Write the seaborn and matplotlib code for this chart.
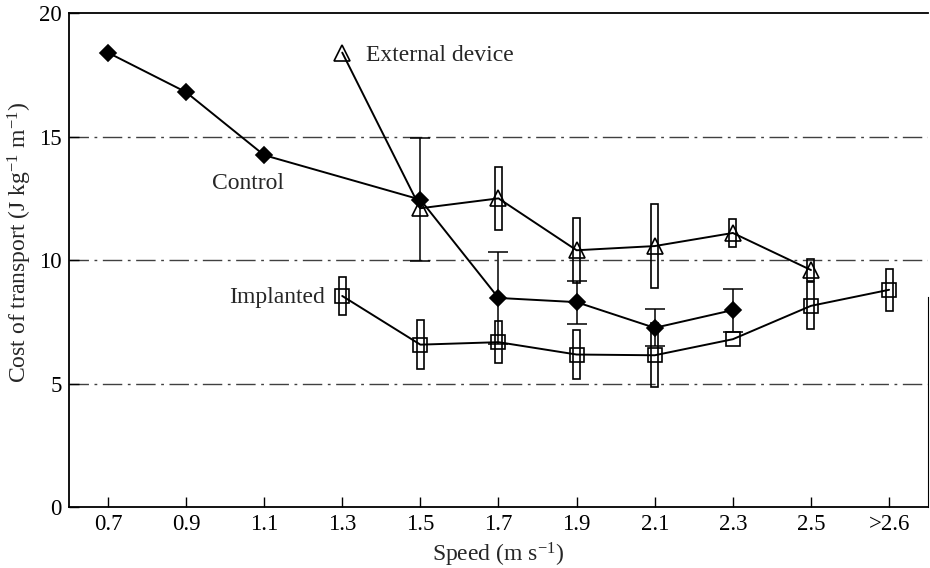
import numpy as np
import pandas as pd
import seaborn as sns
import matplotlib.pyplot as plt

# speed classes (m/s)
speeds = ['0.7', '0.9', '1.1', '1.3', '1.5', '1.7', '1.9', '2.1', '2.3', '2.5', '>2.6']

# cost of transport, J kg-1 m-1 (nan = no data)
control_mean = [18.4, 16.8, 14.25, np.nan, 12.45, 8.47, 8.3, 7.26, 7.98, np.nan, np.nan]
control_err = [np.nan, np.nan, np.nan, np.nan, 2.5, 1.87, 0.87, 0.75, 0.87, np.nan, np.nan]

external_mean = [np.nan, np.nan, np.nan, 18.4, 12.1, 12.5, 10.4, 10.57, 11.1, 9.6, np.nan]
external_err = [np.nan, np.nan, np.nan, np.nan, np.nan, 1.28, 1.32, 1.7, 0.55, 0.45, np.nan]

implanted_mean = [np.nan, np.nan, np.nan, 8.55, 6.58, 6.68, 6.18, 6.15, 6.8, 8.15, 8.8]
implanted_err = [np.nan, np.nan, np.nan, 0.77, 1.0, 0.85, 1.0, 1.3, np.nan, 0.95, 0.84]

sns.set_style('white')
plt.rcParams['font.family'] = ['Liberation Serif', 'DejaVu Serif']
plt.rcParams['mathtext.fontset'] = 'custom'
plt.rcParams['mathtext.rm'] = 'Liberation Serif'
plt.rcParams['mathtext.it'] = 'Liberation Serif:italic'

pos = np.arange(len(speeds))
df = pd.DataFrame({'pos': pos,
                   'control': control_mean, 'control_err': control_err,
                   'external': external_mean, 'external_err': external_err,
                   'implanted': implanted_mean, 'implanted_err': implanted_err})

fig = plt.figure(figsize=(9.3, 5.68), dpi=100)
ax = fig.add_axes([0.074, 0.107, 0.924, 0.870])

# dash-dot reference lines
for yv in [5, 10, 15]:
    ax.axhline(yv, color='0.25', lw=1.0, ls=(0, (14, 4, 2, 4)), zorder=0)

# open narrow boxes used as error bars (external device, implanted)
for col in ['external', 'implanted']:
    d = df.dropna(subset=[col + '_err'])
    ax.bar(d['pos'], 2 * d[col + '_err'], bottom=d[col] - d[col + '_err'],
           width=0.09, fill=False, edgecolor='black', linewidth=1.2, zorder=2)

# capped error bars for control
d = df.dropna(subset=['control_err'])
ax.errorbar(d['pos'], d['control'], yerr=d['control_err'], fmt='none',
            ecolor='black', elinewidth=1.1, capsize=7, capthick=1.1, zorder=2)

line_kw = dict(color='black', linewidth=1.4, markeredgecolor='black',
               markeredgewidth=1.2, ax=ax, zorder=3)
sns.lineplot(data=df.dropna(subset=['control']), x='pos', y='control',
             marker='D', markersize=8.5, markerfacecolor='black', **line_kw)
sns.lineplot(data=df.dropna(subset=['external']), x='pos', y='external',
             marker='^', markersize=11, markerfacecolor='none', **line_kw)
sns.lineplot(data=df.dropna(subset=['implanted']), x='pos', y='implanted',
             marker='s', markersize=9.5, markerfacecolor='none', **line_kw)

# series labels
ax.text(3.3, 18.3, 'External device', fontsize=17, va='center', ha='left')
ax.text(1.33, 13.1, 'Control', fontsize=17, va='center', ha='left')
ax.text(1.55, 8.5, 'Implanted', fontsize=17, va='center', ha='left')

ax.set_xlim(-0.5, 10.5)
ax.set_ylim(0, 20)
ax.set_xticks(pos)
ax.set_xticklabels(speeds)
ax.set_yticks([0, 5, 10, 15, 20])
ax.tick_params(direction='in', length=7, width=1.0, labelsize=16.5, pad=5,
               bottom=True, left=True, colors='black')

ax.set_xlabel('Speed (m s$^{-1}$)', fontsize=17)
ax.set_ylabel('Cost of transport (J kg$^{-1}$ m$^{-1}$)', fontsize=17)
ax.xaxis.set_label_coords(0.5, -0.068)
ax.yaxis.set_label_coords(-0.041, 0.536)

for s in ['left', 'bottom', 'top', 'right']:
    ax.spines[s].set_color('black')
    ax.spines[s].set_linewidth(1.3)
ax.spines['right'].set_bounds(0, 8.5)
ax.spines['right'].set_linewidth(0.8)

fig.savefig('out.png', dpi=100)
